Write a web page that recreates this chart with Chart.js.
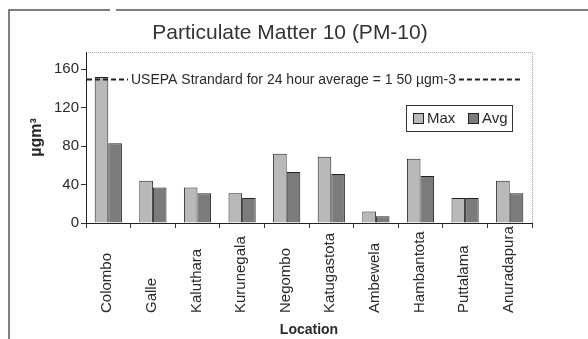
<!DOCTYPE html>
<html>
<head>
<meta charset="utf-8">
<script src="https://cdn.jsdelivr.net/npm/chart.js@4.4.1/dist/chart.umd.min.js"></script>
<style>
  html, body { margin: 0; padding: 0; background: #fff; }
  canvas { display: block; }
</style>
</head>
<body>
<canvas id="pmChart" width="588" height="339"></canvas>
<script>
// pm10 chart

const locations = ['Colombo', 'Galle', 'Kaluthara', 'Kurunegala', 'Negombo',
  'Katugastota', 'Ambewela', 'Hambantota', 'Puttalama', 'Anuradapura'];
const maxValues = [152, 44, 37, 31, 72, 69, 12, 67, 26, 44];
const avgValues = [83, 37, 31, 26, 53, 51, 7, 49, 26, 31];
const yTicks = [0, 40, 80, 120, 160];
const standardValue = 150;
const standardText = 'USEPA Strandard for 24 hour average = 1 50 \u00b5gm-3';
const chartTitle = 'Particulate Matter 10 (PM-10)';

const FONT = '"Liberation Sans", Arial, sans-serif';
const INK = '#2a2a2a';

// frame, title, plot border, standard line, legend, rotated labels
const extras = {
  id: 'extras',
  beforeDraw(chart) {
    const c = chart.ctx;
    c.save();
    c.fillStyle = '#fff';
    c.fillRect(0, 0, chart.width, chart.height);
    c.strokeStyle = '#555';
    c.lineWidth = 1.5;
    c.beginPath();
    c.moveTo(9, chart.height);
    c.lineTo(9, 10);
    c.lineTo(110, 10);
    c.moveTo(116, 10);
    c.lineTo(chart.width, 10);
    c.stroke();

    const a = chart.chartArea;
    c.strokeStyle = '#aaa';
    c.lineWidth = 1;
    c.setLineDash([1, 1]);
    c.beginPath();
    c.moveTo(a.left, a.top + 0.5);
    c.lineTo(a.right + 0.5, a.top + 0.5);
    c.lineTo(a.right + 0.5, a.bottom);
    c.stroke();
    c.restore();

    c.save();
    c.fillStyle = '#333';
    c.font = '21px ' + FONT;
    c.textAlign = 'center';
    c.textBaseline = 'alphabetic';
    c.fillText(chartTitle, 290, 39);
    c.restore();
  },
  afterDatasetsDraw(chart) {
    const c = chart.ctx;
    const a = chart.chartArea;
    const y = Math.round(chart.scales.y.getPixelForValue(standardValue)) + 0.5;
    c.save();
    c.font = '14px ' + FONT;
    const tx = a.left + 45;
    const tw = c.measureText(standardText).width;
    c.strokeStyle = '#222';
    c.lineWidth = 2;
    c.setLineDash([5, 3]);
    c.beginPath();
    c.moveTo(a.left + 1, y);
    c.lineTo(tx - 3, y);
    c.moveTo(tx + tw + 3, y);
    c.lineTo(a.right - 11, y);
    c.stroke();
    c.fillStyle = INK;
    c.textBaseline = 'middle';
    c.fillText(standardText, tx, y + 1);

    // legend
    const lx = a.right - 126, ly = a.top + 53, lw = 106, lh = 26;
    c.setLineDash([]);
    c.fillStyle = '#fff';
    c.fillRect(lx, ly, lw, lh);
    c.strokeStyle = '#333';
    c.lineWidth = 1;
    c.strokeRect(lx + 0.5, ly + 0.5, lw, lh);
    c.font = '15px ' + FONT;
    let x = lx + 7;
    chart.data.datasets.forEach(ds => {
      c.fillStyle = ds.backgroundColor;
      c.fillRect(x, ly + 8, 10, 10);
      c.strokeStyle = '#222';
      c.strokeRect(x + 0.5, ly + 8.5, 10, 10);
      c.fillStyle = INK;
      c.textBaseline = 'middle';
      c.fillText(ds.label, x + 14, ly + 14);
      x += 55;
    });
    c.restore();
  },
  afterDraw(chart) {
    const c = chart.ctx;
    const xs = chart.scales.x;
    c.save();
    c.font = '15px ' + FONT;
    c.fillStyle = INK;
    c.textAlign = 'left';
    c.textBaseline = 'middle';
    chart.data.labels.forEach((lab, i) => {
      c.save();
      c.translate(xs.getPixelForValue(i) - 1, 313);
      c.rotate(-Math.PI / 2);
      c.fillText(lab, 0, 0);
      c.restore();
    });
    c.restore();
  }
};

const ctx = document.getElementById('pmChart').getContext('2d');
const chart = new Chart(ctx, {
  type: 'bar',
  data: {
    labels: locations,
    datasets: [{
      label: 'Max',
      data: maxValues,
      backgroundColor: '#b9b9b9',
      borderColor: '#222',
      borderWidth: 1,
      categoryPercentage: 0.61,
      barPercentage: 1.0
    }, {
      label: 'Avg',
      data: avgValues,
      backgroundColor: '#7b7b7b',
      borderColor: '#222',
      borderWidth: 1,
      categoryPercentage: 0.61,
      barPercentage: 1.0
    }]
  },
  options: {
    responsive: false,
    animation: false,
    layout: { padding: { top: 52, right: 56, left: 0, bottom: 0 } },
    plugins: {
      legend: { display: false },
      title: { display: false },
      tooltip: { enabled: false }
    },
    scales: {
      x: {
        grid: { drawOnChartArea: false, tickLength: 5, color: '#333', offset: true },
        border: { color: '#222', width: 1 },
        ticks: { display: false },
        title: {
          display: true, text: 'Location', color: INK,
          font: { family: FONT, size: 14, weight: 'bold' },
          padding: { top: 0, bottom: 0 }
        },
        afterFit: s => { s.height = 116; }
      },
      y: {
        min: 0,
        max: 178,
        afterBuildTicks: s => { s.ticks = yTicks.map(v => ({ value: v })); },
        ticks: { color: INK, font: { family: FONT, size: 15 }, padding: 2 },
        grid: { drawOnChartArea: false, tickLength: 5, color: '#333' },
        border: { color: '#222', width: 1 },
        title: {
          display: true, text: '\u00b5gm\u00b3', color: INK,
          font: { family: FONT, size: 16, weight: 'bold' },
          padding: { top: 27, bottom: 0 }
        },
        afterFit: s => { s.width = 86; }
      }
    }
  },
  plugins: [extras]
});
</script>
</body>
</html>
